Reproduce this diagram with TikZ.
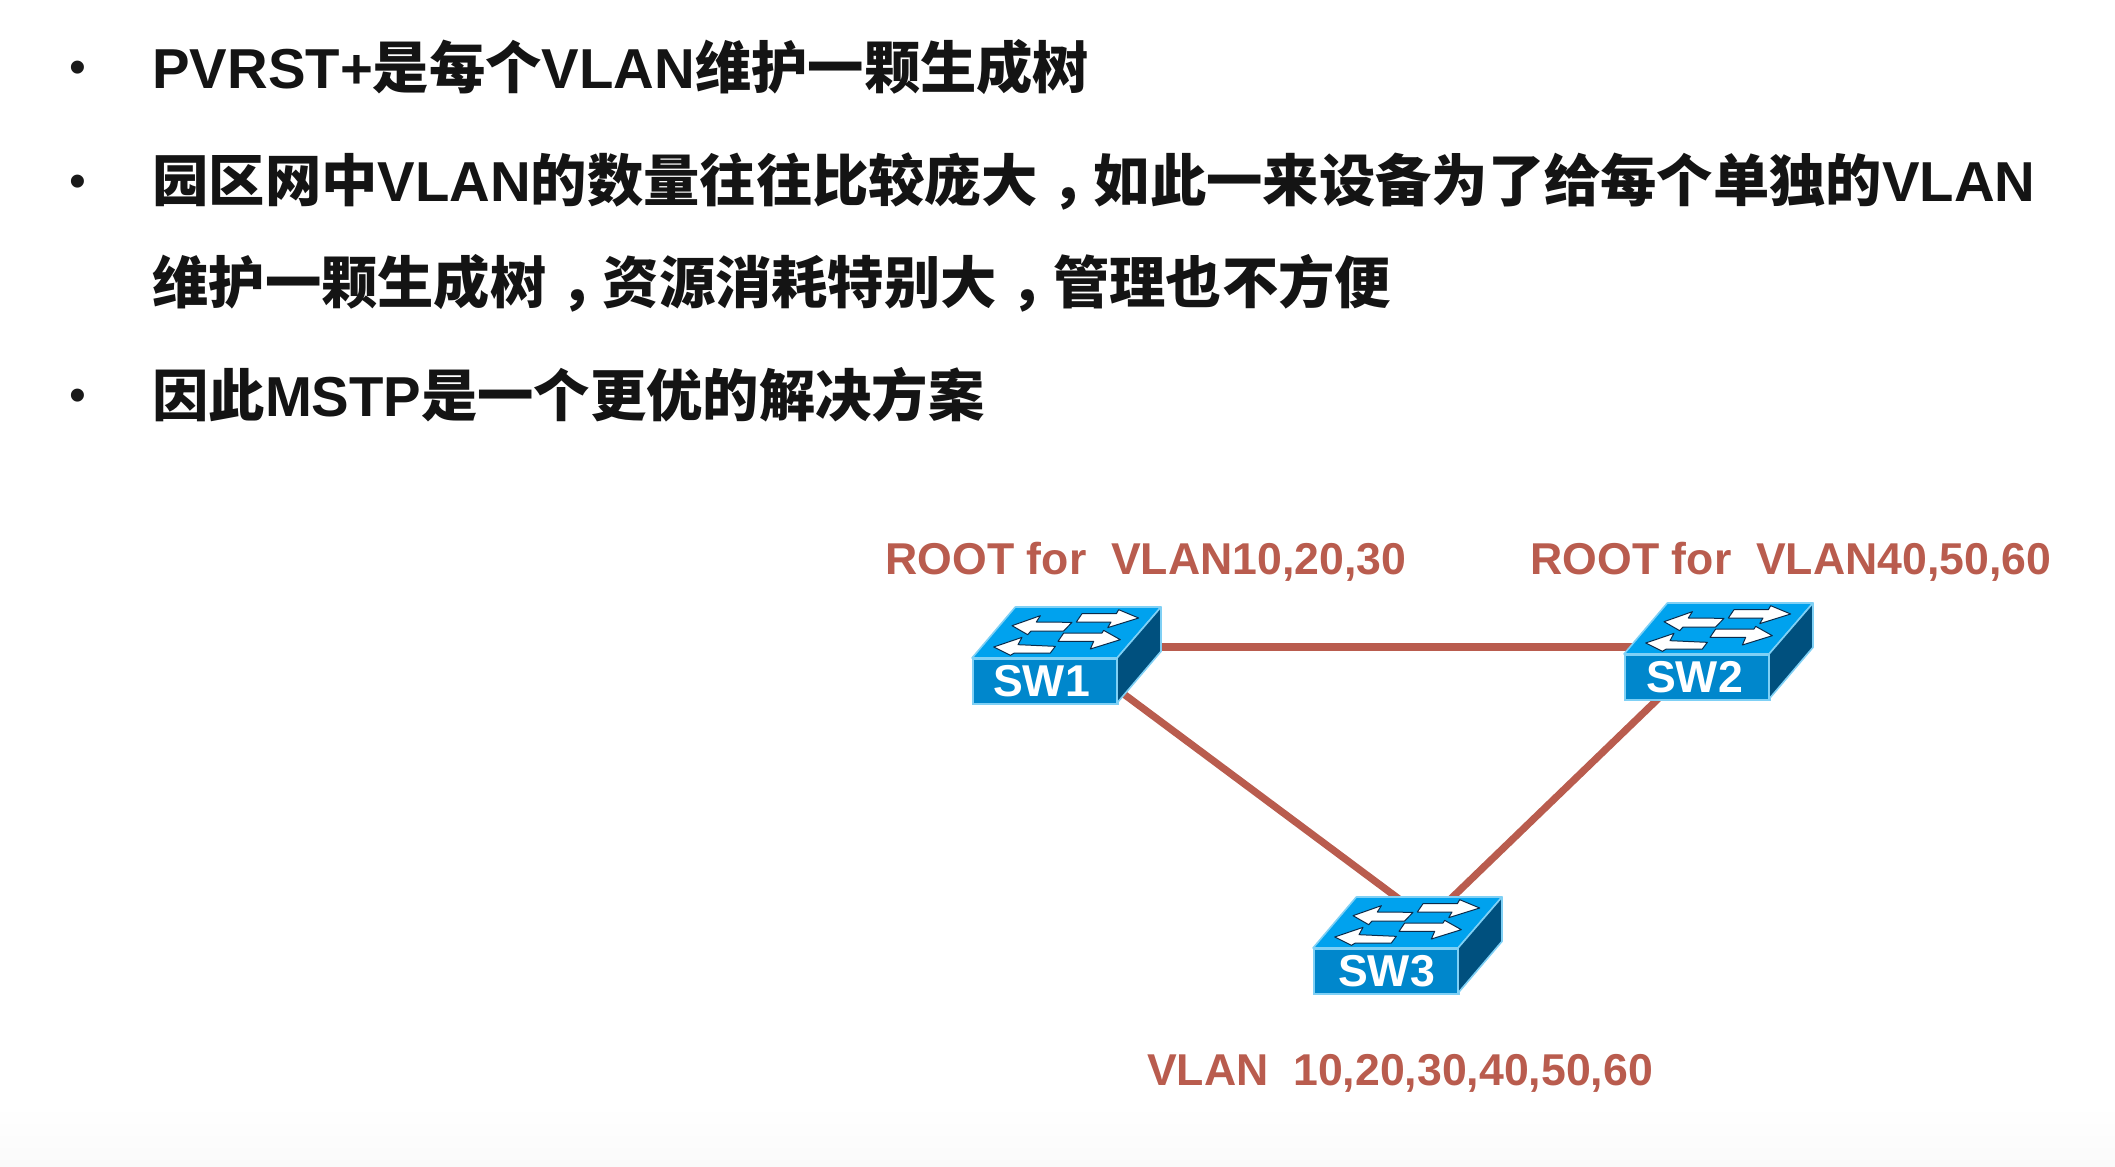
\documentclass[tikz,border=0pt]{standalone}
\usepackage{fontspec}
\usetikzlibrary{backgrounds}
\setmainfont{Liberation Sans}
\newfontfamily\cjk{Noto Sans CJK SC}
\newcommand{\ltn}[1]{{\fontspec{Liberation Sans}\bfseries #1}}
\newcommand{\cma}{\hspace{.25em}，\hspace{-.25em}}
\definecolor{linkred}{HTML}{B95C4E}
\definecolor{swfront}{HTML}{0087CC}
\definecolor{swtop}{HTML}{00A2EE}
\definecolor{swside}{HTML}{00507E}
\definecolor{swedge}{HTML}{7FD0F5}
\definecolor{swshadow}{HTML}{0B2B4A}
\tikzset{
  x=0.5pt,y=-0.5pt,
  bodytext/.style={anchor=west,inner sep=0pt,font=\cjk\bfseries\fontsize{28.15}{28}\selectfont,text=black!92},
  bulletmark/.style={inner sep=0pt,font=\fontsize{24}{24}\selectfont,text=black!90},
  rootlabel/.style={inner sep=0pt,font=\bfseries\fontsize{22.3}{24}\selectfont,text=linkred},
  link/.style={draw=linkred,line width=3.6pt},
  swfacefront/.style={draw=swedge,line width=1pt,fill=swfront,inner sep=0pt,minimum width=72.5pt,minimum height=22.5pt,anchor=north west,text=white,font=\bfseries\fontsize{22.3}{22}\selectfont},
  swface/.style={draw=swedge,line width=.8pt,line join=round},
  swarrow/.style={fill=white,draw=swshadow,line width=.5pt,line join=round},
  pics/switchtop/.style={code={
    \begin{scope}[shift={(-65/3,-205/3)},x=0.16667pt,y=-0.16667pt]
      \path[swface,fill=swtop] (65,205) -- (195,52) -- (632,52) -- (500,205) -- cycle;
      \path[swface,fill=swside] (500,205) -- (632,52) -- (632,185) -- (500,340) -- cycle;
      \path[swarrow] (185,108) -- (270,78) -- (258,97) -- (365,98) -- (340,124) -- (242,124) -- (232,135) -- cycle;
      \path[swarrow] (565,85) -- (505,60) -- (498,72) -- (395,72) -- (378,97) -- (482,97) -- (472,114) -- cycle;
      \path[swarrow] (130,172) -- (215,143) -- (203,165) -- (315,170) -- (300,190) -- (192,190) -- (180,197) -- cycle;
      \path[swarrow] (510,150) -- (460,122) -- (455,130) -- (340,130) -- (323,155) -- (430,155) -- (420,178) -- cycle;
    \end{scope}
  }},
}
\begin{document}
\begin{tikzpicture}
\useasboundingbox (0,0) rectangle (2115,1167);
\begin{scope}[on background layer]
\fill[white] (0,0) rectangle (2115,1167);
\shade[top color=white,bottom color=black!2] (0,1105) rectangle (2115,1167);
\end{scope}

\node[bulletmark] (b1) at (78,72) {•};
\node[bulletmark] (b2) at (78,186) {•};
\node[bulletmark] (b3) at (78,400) {•};
\node[bodytext] (t1) at (152,67) {\ltn{PVRST+}是每个\ltn{VLAN}维护一颗生成树};
\node[bodytext] (t2) at (152,181) {园区网中\ltn{VLAN}的数量往往比较庞大\cma 如此一来设备为了给每个单独的\ltn{VLAN}};
\node[bodytext] (t3) at (152,283) {维护一颗生成树\cma 资源消耗特别大\cma 管理也不方便};
\node[bodytext] (t4) at (152,395) {因此\ltn{MSTP}是一个更优的解决方案};

\node[rootlabel] (r1) at (1146,562) {ROOT for\ \ VLAN10,20,30};
\node[rootlabel] (r2) at (1791,562) {ROOT for\ \ VLAN40,50,60};
\node[rootlabel] (r3) at (1400,1073) {VLAN\ \ 10,20,30,40,50,60};

\node[swfacefront] (SW1) at (972,658) {\hspace*{-4pt}\raisebox{1pt}{SW1}};
\node[swfacefront] (SW2) at (1624,654) {\hspace*{-3pt}SW2};
\node[swfacefront] (SW3) at (1313,948) {SW3};

\begin{scope}[on background layer]
\draw[link] ([shift={(30,-11)}]SW1.north east) -- ([shift={(30,-7)}]SW2.north west);
\draw[link] ([shift={(-2,-16)}]SW1.south east) -- ([shift={(-57,-46)}]SW3.north east);
\draw[link] ([shift={(38,-6)}]SW2.south west) -- ([shift={(-12.5,-46)}]SW3.north east);
\end{scope}

\pic at (SW1.north west) {switchtop};
\pic at (SW2.north west) {switchtop};
\pic at (SW3.north west) {switchtop};
\end{tikzpicture}
\end{document}
